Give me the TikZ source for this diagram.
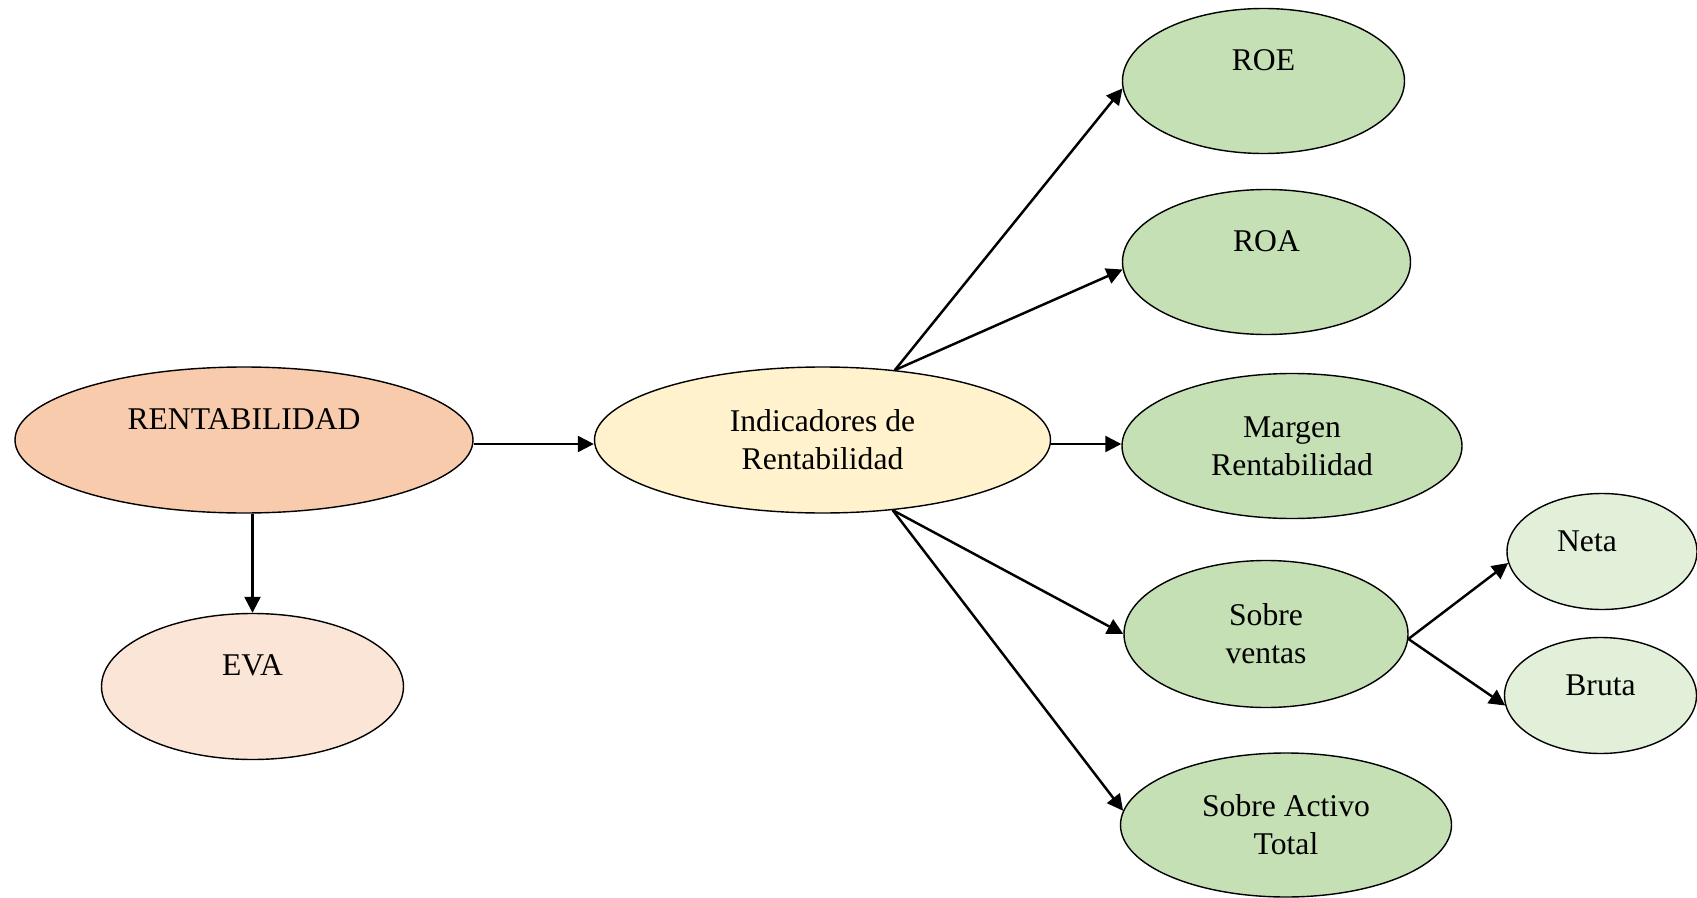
\documentclass[tikz,border=0pt]{standalone}
\usepackage{fontspec}
\setmainfont{Liberation Serif}
\usepackage{xcolor}
\usetikzlibrary{shapes.geometric,arrows.meta}

\definecolor{salmon}{HTML}{F8CBAD}
\definecolor{peach}{HTML}{FBE5D6}
\definecolor{cream}{HTML}{FFF2CC}
\definecolor{leaf}{HTML}{C5E0B4}
\definecolor{paleleaf}{HTML}{E2F0D9}

\begin{document}
\begin{tikzpicture}[scale=1,
	bubble/.style={ellipse, draw=black, line width=0.8pt, inner sep=0pt, align=center,
		font=\fontsize{18}{21.6}\selectfont},
	arr/.style={line width=1.4pt, -{Triangle[length=0.32cm,width=0.32cm]}}]
	\useasboundingbox (0,0) rectangle (33.94,17.94);
	
		%draw left bubbles
		\node[bubble, fill=salmon, minimum width=9.16cm, minimum height=2.92cm] (rent) at (4.88,9.14) {RENTABILIDAD\\[-0.14cm]\strut};
		\node[bubble, fill=peach, minimum width=6.04cm, minimum height=2.92cm] (eva) at (5.05,4.21) {EVA\\[-0.14cm]\strut};
		\node[bubble, fill=cream, minimum width=9.12cm, minimum height=2.92cm] (ind) at (16.45,9.14) {Indicadores de\\Rentabilidad};
		
		%draw indicator bubbles
		\node[bubble, fill=leaf, minimum width=5.64cm, minimum height=2.9cm] (roe) at (25.27,16.32) {ROE\\[-0.14cm]\strut};
		\node[bubble, fill=leaf, minimum width=5.76cm, minimum height=2.9cm] (roa) at (25.33,12.70) {ROA\\[-0.14cm]\strut};
		\node[bubble, fill=leaf, minimum width=6.8cm, minimum height=2.9cm] (marg) at (25.84,9.02) {Margen\\Rentabilidad};
		\node[bubble, fill=leaf, minimum width=5.68cm, minimum height=2.94cm] (sv) at (25.32,5.26) {Sobre\\ventas};
		\node[bubble, fill=leaf, minimum width=6.62cm, minimum height=2.88cm] (sat) at (25.72,1.44) {Sobre Activo\\Total};
		
		%net & gross
		\node[bubble, fill=paleleaf, minimum width=3.8cm, minimum height=2.32cm] (neta) at (32.04,6.91) {Neta\hspace*{0.6cm}\\[-0.58cm]\strut};
		\node[bubble, fill=paleleaf, minimum width=3.84cm, minimum height=2.32cm] (bruta) at (32.01,4.03) {Bruta\\[-0.58cm]\strut};
		
		%draw arrows
		\draw[arr] ([yshift=-0.08cm]rent.east) -- ([yshift=-0.08cm]ind.west);
		\draw[arr] (eva.north |- rent.south) -- (eva.north);
		\draw[arr] ([yshift=-0.08cm]ind.east) -- ([yshift=-0.08cm]ind.east -| marg.west);
		\foreach \n/\a in {roe/183, roa/183}
		\draw[arr] (ind.44) -- (\n.\a);
		\foreach \n/\a in {sv/180, sat/175}
		\draw[arr] (ind.-45) -- (\n.\a);
		\draw[arr] (sv.-2) -- (neta.187);
		\draw[arr] (sv.-2) -- (bruta.186);
	
	\end{tikzpicture}
\end{document}
